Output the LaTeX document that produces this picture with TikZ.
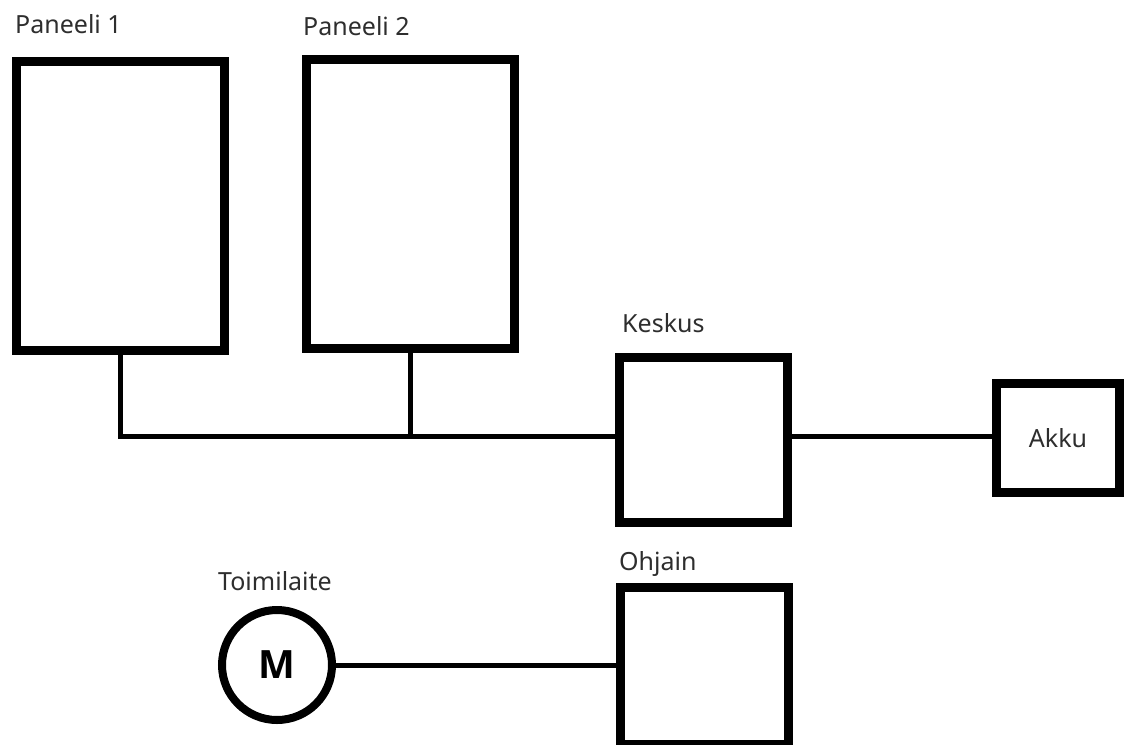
\documentclass[tikz,border=0pt]{standalone}
\usepackage{fontspec}
\setmainfont{Noto Sans}
\newfontfamily\motorfont{Open Sans}
\definecolor{txt}{HTML}{2E2E2E}
\begin{document}
\begin{tikzpicture}[x=1pt,y=-1pt,
  box/.style={draw=black,line width=9pt,rectangle,inner sep=0pt,fill=white},
  conn/.style={draw=black,line width=5pt},
  lbl/.style={anchor=base west,inner sep=0pt,text=txt,font=\fontsize{25}{28}\selectfont}]
\useasboundingbox[fill=white] (0,0) rectangle (1131,744);
% boxes
\node[box,minimum width=208pt,minimum height=289pt] (p1) at (120.5,206) {};
\node[box,minimum width=208pt,minimum height=289pt] (p2) at (410.5,204) {};
\node[box,minimum width=168pt,minimum height=165pt] (ke) at (703.5,440) {};
\node[box,minimum width=123pt,minimum height=109pt,text=txt,font=\fontsize{25}{28}\selectfont] (ak) at (1058,438) {Akku};
\node[box,minimum width=168pt,minimum height=157pt] (oh) at (704.5,666) {};
\node[circle,draw=black,line width=8pt,minimum size=110pt,inner sep=0pt,font=\motorfont\fontsize{39}{42}\selectfont\bfseries] (m) at (277,665) {M};
% labels
\node[lbl] (l1) at (15,33) {Paneeli 1};
\node[lbl] (l2) at (303,35) {Paneeli 2};
\node[lbl] (l3) at (622,332) {Keskus};
\node[lbl] (l4) at (218,590) {Toimilaite};
\node[lbl] (l5) at (619,570) {Ohjain};
% connectors
\coordinate (bus) at ([yshift=4pt]ke.west);
\draw[conn] (p1.south) |- (bus);
\draw[conn] (p2.south) -- (p2.south |- bus);
\draw[conn] (ke.east |- bus) -- (ak.west |- bus);
\draw[conn] (m.east) -- (m.east -| oh.west);
\end{tikzpicture}
\end{document}
